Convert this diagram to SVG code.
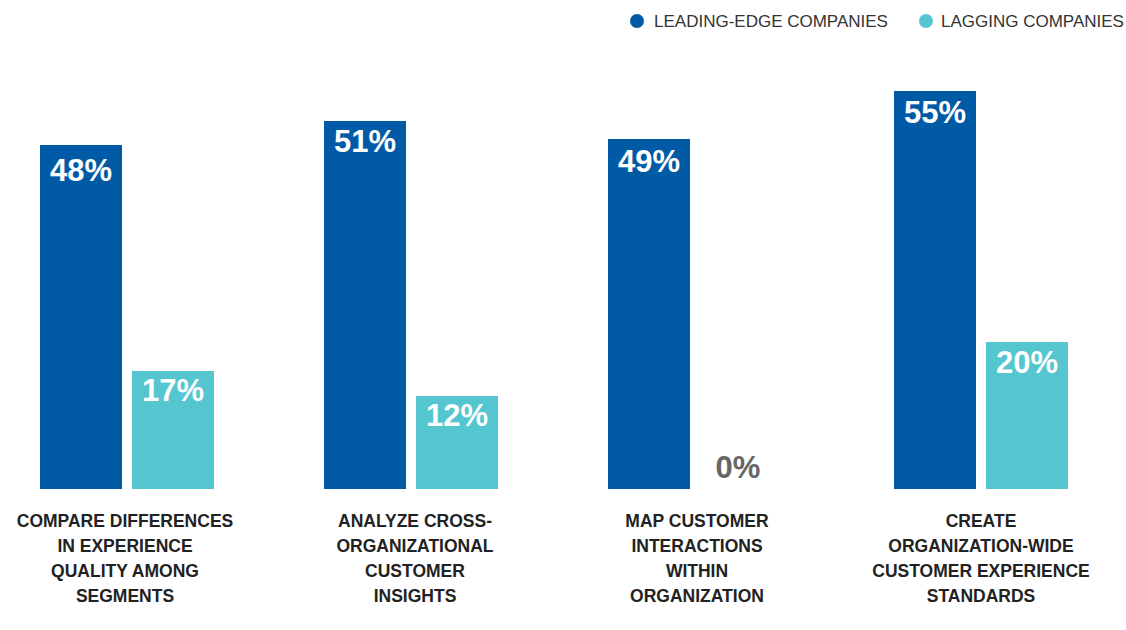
<svg xmlns="http://www.w3.org/2000/svg" width="1126" height="630" viewBox="0 0 1126 630">
<style>
.lead{fill:#015AA5}
.lag{fill:#55C5CF}
.val{font-family:"Liberation Sans",Arial,sans-serif;font-weight:bold;font-size:31px;fill:#fff;text-anchor:middle}
.zero{fill:#666}
.cat{font-family:"Liberation Sans",Arial,sans-serif;font-weight:bold;font-size:17.5px;fill:#222;text-anchor:middle}
.leg{font-family:"Liberation Sans",Arial,sans-serif;font-size:17px;fill:#333}
</style>
<rect width="1126" height="630" fill="#fff"/>
<g id="legend">
<circle cx="637" cy="21" r="7" class="lead"/>
<text x="654" y="27" class="leg">LEADING-EDGE COMPANIES</text>
<circle cx="926" cy="21" r="7" class="lag"/>
<text x="941" y="27" class="leg">LAGGING COMPANIES</text>
</g>
<g id="group1">
<rect x="40" y="145" width="82" height="344" class="lead"/>
<text x="81" y="181" class="val">48%</text>
<rect x="132" y="371" width="82" height="118" class="lag"/>
<text x="173" y="401" class="val">17%</text>
<text class="cat"><tspan x="125" y="527">COMPARE DIFFERENCES</tspan><tspan x="125" y="552">IN EXPERIENCE</tspan><tspan x="125" y="577">QUALITY AMONG</tspan><tspan x="125" y="602">SEGMENTS</tspan></text>
</g>
<g id="group2">
<rect x="324" y="121" width="82" height="368" class="lead"/>
<text x="365" y="152" class="val">51%</text>
<rect x="416" y="396" width="82" height="93" class="lag"/>
<text x="457" y="426" class="val">12%</text>
<text class="cat"><tspan x="415" y="527">ANALYZE CROSS-</tspan><tspan x="415" y="552">ORGANIZATIONAL</tspan><tspan x="415" y="577">CUSTOMER</tspan><tspan x="415" y="602">INSIGHTS</tspan></text>
</g>
<g id="group3">
<rect x="608" y="139" width="82" height="350" class="lead"/>
<text x="649" y="172" class="val">49%</text>
<text x="738" y="478" class="val zero">0%</text>
<text class="cat"><tspan x="697" y="527">MAP CUSTOMER</tspan><tspan x="697" y="552">INTERACTIONS</tspan><tspan x="697" y="577">WITHIN</tspan><tspan x="697" y="602">ORGANIZATION</tspan></text>
</g>
<g id="group4">
<rect x="894" y="91" width="82" height="398" class="lead"/>
<text x="935" y="123" class="val">55%</text>
<rect x="986" y="342" width="82" height="147" class="lag"/>
<text x="1027" y="373" class="val">20%</text>
<text class="cat"><tspan x="981" y="527">CREATE</tspan><tspan x="981" y="552">ORGANIZATION-WIDE</tspan><tspan x="981" y="577">CUSTOMER EXPERIENCE</tspan><tspan x="981" y="602">STANDARDS</tspan></text>
</g>
<g id="connectors"/>
</svg>
